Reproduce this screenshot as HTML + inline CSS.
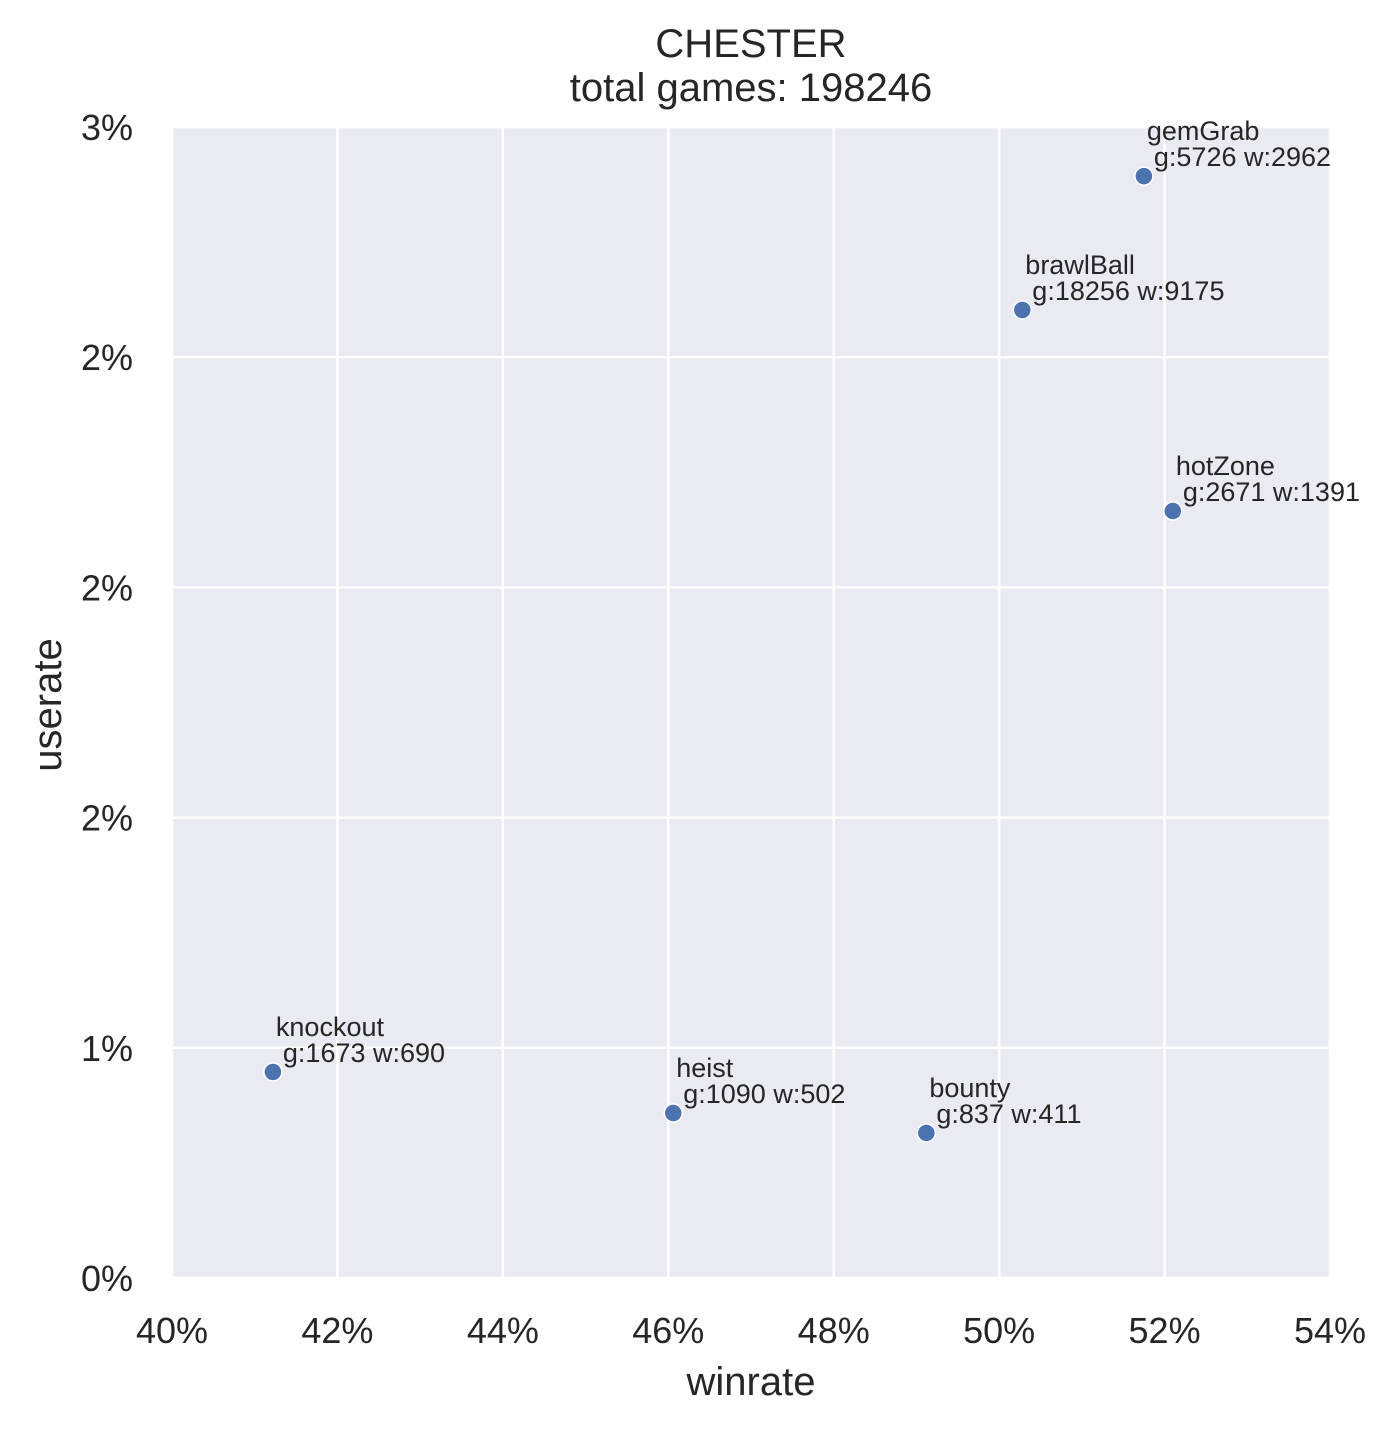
<!DOCTYPE html>
<html><head><meta charset="utf-8"><style>
html,body{margin:0;padding:0;background:#fff;}
svg{display:block;font-family:"Liberation Sans",Arial,sans-serif;}
</style></head><body>
<svg id="chart" width="1399" height="1431" viewBox="0 0 1399 1431" xmlns="http://www.w3.org/2000/svg">
<rect width="1399" height="1431" fill="#fff"/>
<text x="751" y="57" font-size="40" fill="#262626" text-anchor="middle">CHESTER</text>
<text x="751" y="101" font-size="40" fill="#262626" text-anchor="middle">total games: 198246</text>
<rect x="172" y="127" width="1158" height="1151" fill="#eaeaf2"/>
<g id="grid"></g>
<g id="xticks"></g>
<g id="yticks"></g>
<g id="points"></g>
<text x="751" y="1395" font-size="40" fill="#262626" text-anchor="middle">winrate</text>
<text x="61" y="705" font-size="40" fill="#262626" text-anchor="middle" transform="rotate(-90 61 705)">userate</text>
</svg>
<script>
const modes = ["gemGrab","brawlBall","hotZone","knockout","heist","bounty"];
const winrates = [51.75,50.28,52.10,41.22,46.06,49.12];
const userates = [2.872,2.523,1.999,0.537,0.430,0.378];
const gamesLabels = ["g:5726 w:2962","g:18256 w:9175","g:2671 w:1391","g:1673 w:690","g:1090 w:502","g:837 w:411"];
const xTickValues = [40,42,44,46,48,50,52,54];
const xTickLabels = ["40%","42%","44%","46%","48%","50%","52%","54%"];
const yTickValues = [0,0.6,1.2,1.8,2.4,3.0];
const yTickLabels = ["0%","1%","2%","2%","2%","3%"];

const X0=172,X1=1330,Y0=1278,Y1=127;
function xs(v){return X0+(v-40)/(54-40)*(X1-X0);}
function ys(v){return Y0-(v-0)/(3-0)*(Y0-Y1);}
const NS="http://www.w3.org/2000/svg";
function mk(tag,attrs,parent){const e=document.createElementNS(NS,tag);for(const k in attrs)e.setAttribute(k,attrs[k]);parent.appendChild(e);return e;}
const grid=document.getElementById('grid'),xt=document.getElementById('xticks'),yt=document.getElementById('yticks'),pts=document.getElementById('points');
xTickValues.forEach((v,i)=>{
  const l=mk('line',{x1:xs(v),x2:xs(v),y1:Y1,y2:Y0,stroke:'#fff','stroke-width':2.5},grid);
  
  
  const t=mk('text',{x:xs(v),y:1343,'font-size':36,fill:'#262626','text-anchor':'middle'},xt);
  t.textContent=xTickLabels[i];
  
  
});
yTickValues.forEach((v,i)=>{
  const l=mk('line',{x1:X0,x2:X1,y1:ys(v),y2:ys(v),stroke:'#fff','stroke-width':2.5},grid);
  
  
  const t=mk('text',{x:133,y:ys(v)+13,'font-size':36,fill:'#262626','text-anchor':'end'},yt);
  t.textContent=yTickLabels[i];
  
  
});
modes.forEach((m,i)=>{
  const cx=xs(winrates[i]),cy=ys(userates[i]);
  const c=mk('circle',{cx:cx,cy:cy,r:9,fill:'#4c72b0',stroke:'#fff','stroke-width':1.5},pts);
  
  
  const t1=mk('text',{x:cx+3,y:cy-36,'font-size':27,fill:'#262626'},pts);
  t1.textContent=m;
  
  
  const t2=mk('text',{x:cx+10,y:cy-10,'font-size':27,fill:'#262626'},pts);
  t2.textContent=gamesLabels[i];
  
  
});
</script>
</body></html>
